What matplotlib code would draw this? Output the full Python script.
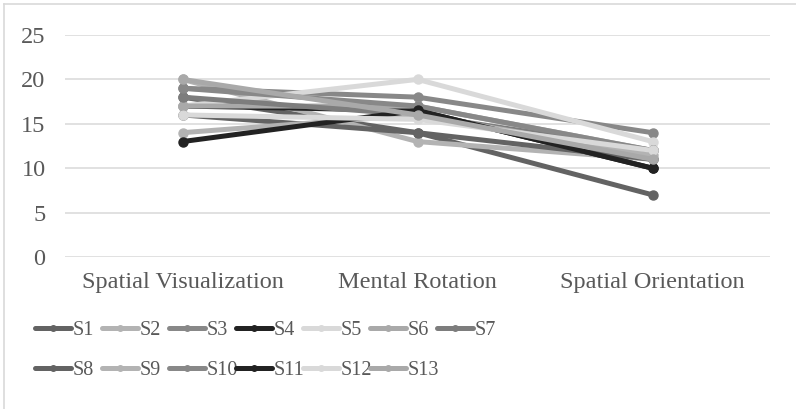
import matplotlib.pyplot as plt
from matplotlib.lines import Line2D

# categories and series values
categories = ['Spatial Visualization', 'Mental Rotation', 'Spatial Orientation']
names = ['S1', 'S2', 'S3', 'S4', 'S5', 'S6', 'S7',
         'S8', 'S9', 'S10', 'S11', 'S12', 'S13']
s1 = [18, 14, 7]
s2 = [20, 13, 11]
s3 = [19, 18, 14]
s4 = [17, 16.5, 10]
s5 = [17, 20, 13]
s6 = [17, 17, 12]
s7 = [18, 16, 12]
s8 = [16, 14, 11]
s9 = [14, 16, 11.5]
s10 = [19, 17, 12]
s11 = [13, 16.5, 10]
s12 = [16, 15.5, 12]
s13 = [20, 16, 11]
series = [s1, s2, s3, s4, s5, s6, s7, s8, s9, s10, s11, s12, s13]
yticks = [0, 5, 10, 15, 20, 25]

colors = ['#636363', '#b3b3b3', '#888888', '#222222', '#d9d9d9', '#a9a9a9', '#7d7d7d',
          '#636363', '#b3b3b3', '#888888', '#222222', '#d9d9d9', '#a9a9a9']

plt.rcParams['font.family'] = ['Liberation Serif', 'DejaVu Serif']
txtColor = '#595959'
fontsize = 17.5
legFontsize = 14.5

fig = plt.figure(figsize=(7.96, 4.09), dpi=100)
ax = fig.add_axes([65 / 796, 1 - 257 / 409, 705 / 796, 222 / 409])

x = list(range(len(categories)))
for i in range(len(series)):
    ax.plot(x, series[i], color=colors[i], lw=3.6, marker='o', markersize=6.5,
            solid_capstyle='round', label=names[i], zorder=3)

ax.set_xlim(-0.5, 2.5)
ax.set_ylim(0, 25)
ax.set_yticks(yticks)
ax.set_xticks(x)
ax.set_xticklabels(categories, fontsize=fontsize, color=txtColor)
ax.set_yticklabels([str(v) for v in yticks], fontsize=fontsize, color=txtColor)
ax.tick_params(axis='both', length=0)
ax.tick_params(axis='y', pad=14)
ax.tick_params(axis='x', pad=11)
ax.yaxis.grid(True, color='#d9d9d9', lw=1.1)
ax.set_axisbelow(True)
for sp in ax.spines.values():
    sp.set_visible(False)

# legend: fixed-pitch entries, 7 per row like the original
for i in range(len(series)):
    row = i // 7
    col = i % 7
    h = Line2D([0], [0], color=colors[i], lw=3.6, marker='o', markersize=4,
               solid_capstyle='round')
    fig.legend([h], [names[i]], loc='center left',
               bbox_to_anchor=((35 + 67 * col) / 796, 1 - (330 + 40 * row) / 409),
               frameon=False, fontsize=legFontsize, labelcolor=txtColor,
               handlelength=1.8, handletextpad=0.05, borderpad=0, borderaxespad=0)

# chart frame (left and top edges visible)
fig.add_artist(Line2D([4 / 796, 4 / 796], [0, 1 - 4 / 409], color='#d9d9d9', lw=1.2))
fig.add_artist(Line2D([4 / 796, 1], [1 - 4 / 409, 1 - 4 / 409], color='#d9d9d9', lw=1.2))

plt.savefig('out.png', dpi=100)
